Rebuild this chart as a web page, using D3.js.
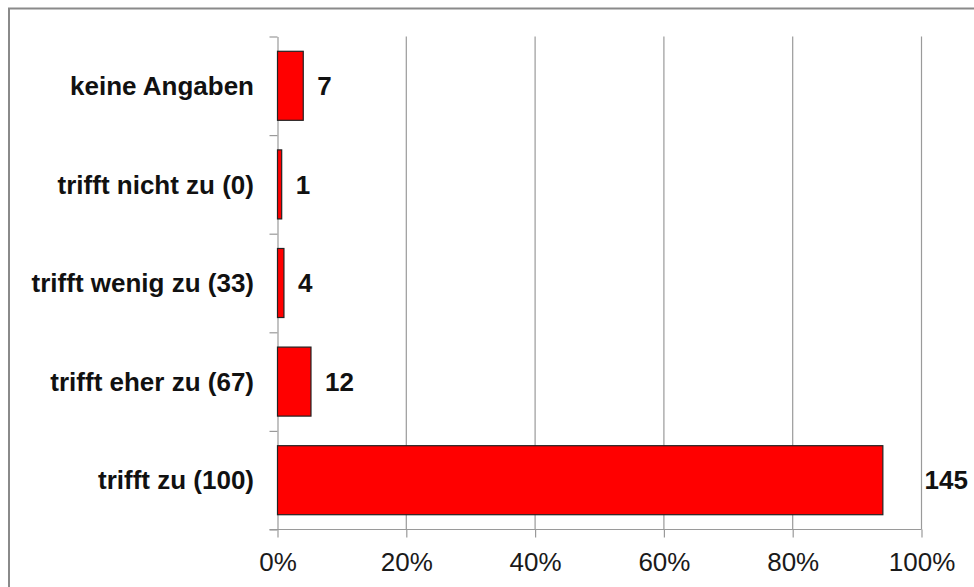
<!DOCTYPE html>
<html lang="de">
<head>
    <meta charset="UTF-8">
    <title>Antworten</title>
    <script src="https://cdn.jsdelivr.net/npm/d3@7/dist/d3.min.js"></script>
    <style>
        html, body { margin: 0; padding: 0; background: #fff; }
        svg { display: block; }
    </style>
</head>
<body>

<script>

    // data
    var categories = ["keine Angaben", "trifft nicht zu (0)", "trifft wenig zu (33)",
        "trifft eher zu (67)", "trifft zu (100)"];
    var counts = [7, 1, 4, 12, 145];
    var shares = [0.040, 0.0065, 0.010, 0.052, 0.940];
    var xTicks = [0, 0.2, 0.4, 0.6, 0.8, 1.0];

    var width = 974;
    var height = 587;
    var plot = {left: 277.5, right: 921.5, top: 36.5, bottom: 529.5};
    var font = "'Liberation Sans', Arial, Helvetica, sans-serif";

    var svg = d3.select("body").append("svg")
        .attr("width", width)
        .attr("height", height);

    // outer frame (runs off the right and bottom edge)
    svg.append("rect")
        .attr("x", 9)
        .attr("y", 8.5)
        .attr("width", width + 20)
        .attr("height", height + 20)
        .attr("fill", "none")
        .attr("stroke", "#8a8a8a")
        .attr("stroke-width", 2);

    var xScale = d3.scaleLinear()
        .domain([0, 1])
        .range([plot.left, plot.right]);

    var yScale = d3.scaleBand()
        .domain(categories)
        .range([plot.top, plot.bottom])
        .paddingInner(0.3)
        .paddingOuter(0.15);

    // boundaries between categories, for the y ticks
    var yEdge = d3.scaleLinear()
        .domain([0, categories.length])
        .range([plot.top, plot.bottom]);

    // vertical gridlines
    svg.append("g")
        .selectAll("line")
        .data(xTicks.slice(1))
        .enter().append("line")
        .attr("x1", function (d) { return xScale(d); })
        .attr("x2", function (d) { return xScale(d); })
        .attr("y1", plot.top)
        .attr("y2", plot.bottom)
        .attr("stroke", "#9a9a9a")
        .attr("stroke-width", 1.2);

    var xAxis = d3.axisBottom(xScale)
        .tickValues(xTicks)
        .tickFormat(d3.format(".0%"))
        .tickSize(8)
        .tickPadding(15);

    var xGroup = svg.append("g")
        .attr("transform", "translate(0," + plot.bottom + ")")
        .call(xAxis);
    xGroup.select(".domain")
        .attr("d", "M" + (plot.left - 8) + ",0H" + plot.right);
    xGroup.selectAll("line").attr("stroke", "#9a9a9a").attr("stroke-width", 1.2);
    xGroup.select(".domain").attr("stroke", "#9a9a9a").attr("stroke-width", 1.2);
    xGroup.selectAll("text")
        .attr("fill", "#1a1a1a")
        .style("font-family", font)
        .style("font-size", "26px");

    var yAxis = d3.axisLeft(yEdge)
        .tickValues(d3.range(categories.length + 1))
        .tickFormat("")
        .tickSize(8)
        .tickSizeOuter(0);

    var yGroup = svg.append("g")
        .attr("transform", "translate(" + plot.left + ",0)")
        .call(yAxis);
    yGroup.selectAll("line").attr("stroke", "#9a9a9a").attr("stroke-width", 1.2);
    yGroup.select(".domain").attr("stroke", "#9a9a9a").attr("stroke-width", 1.2);

    // category labels
    svg.append("g")
        .selectAll("text")
        .data(categories)
        .enter().append("text")
        .attr("x", plot.left - 23.5)
        .attr("y", function (d) { return yScale(d) + yScale.bandwidth() / 2; })
        .attr("dy", "0.35em")
        .attr("text-anchor", "end")
        .attr("fill", "#111")
        .style("font-family", font)
        .style("font-weight", "bold")
        .style("font-size", "26px")
        .text(function (d) { return d; });

    // bars
    svg.append("g")
        .selectAll("rect")
        .data(categories)
        .enter().append("rect")
        .attr("x", xScale(0))
        .attr("y", function (d) { return yScale(d); })
        .attr("width", function (d, i) { return xScale(shares[i]) - xScale(0); })
        .attr("height", yScale.bandwidth())
        .attr("fill", "#ff0000")
        .attr("stroke", "#222")
        .attr("stroke-width", 1.2);

    // count labels, pushed past the plot edge when they would cross it
    svg.append("g")
        .selectAll("text")
        .data(categories)
        .enter().append("text")
        .attr("x", function (d, i) {
            var x = xScale(shares[i]) + 14;
            return x + 44 > plot.right ? plot.right + 3 : x;
        })
        .attr("y", function (d) { return yScale(d) + yScale.bandwidth() / 2; })
        .attr("dy", "0.35em")
        .attr("fill", "#111")
        .style("font-family", font)
        .style("font-weight", "bold")
        .style("font-size", "26px")
        .text(function (d, i) { return counts[i]; });

</script>
</body>
</html>
